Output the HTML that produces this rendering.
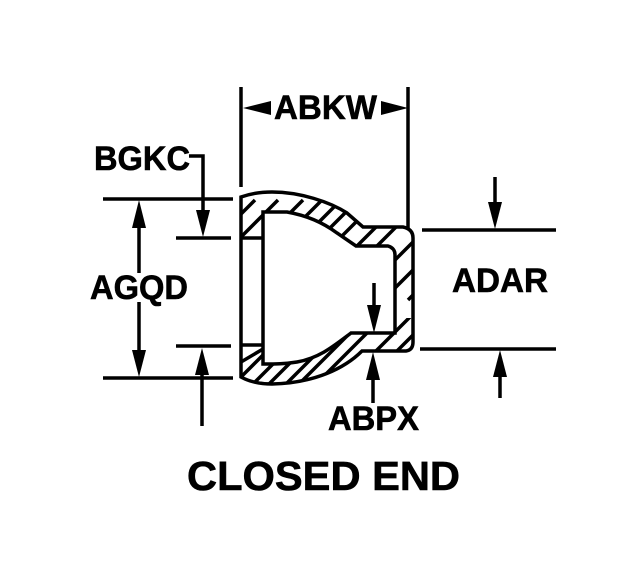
<!DOCTYPE html>
<html><head><meta charset="utf-8"><style>
html,body{margin:0;padding:0;background:#fff}
svg{display:block}
text{font-family:"Liberation Sans",sans-serif;font-weight:700;fill:#000;stroke:#000;stroke-width:.6}
</style></head><body>
<svg width="636" height="572" viewBox="0 0 636 572" xmlns="http://www.w3.org/2000/svg">
<defs>
<clipPath id="ring"><path clip-rule="evenodd" d="M241 197 C252 193 262 192 272 192 C300 192 330 202 347 213 L363 227 L403 227 Q413 229 413 238 L413 342 Q413 350 406 351 L362 351 C345 368 315 383 272 384 C260 384 250 382 241 377 Z M263 212 L287 212 C310 216 325 224 337 233 L356 246 L388 246 Q395 248 395 255 L395 333 L351 333 C335 345 320 358 297 362 C285 364 275 364 263 364 Z"/></clipPath>
<clipPath id="up"><rect x="230" y="180" width="190" height="90"/><rect x="394" y="270" width="30" height="48"/></clipPath>
<clipPath id="lo"><rect x="230" y="330" width="165" height="60"/><rect x="395" y="318" width="30" height="40"/></clipPath>
</defs>
<g stroke="#000" stroke-width="3.5" fill="none">
<g clip-path="url(#ring)">
<g clip-path="url(#up)">
<path d="M255 200L155 300M278 200L178 300M303 200L203 300M322 200L222 300M341 200L241 300M358 200L258 300M378 200L278 300M403 200L303 300M423 200L323 300M455 200L355 300M483 200L383 300M508 200L408 300"/>
</g>
<g clip-path="url(#lo)">
<path d="M218 400L318 300M237 400L337 300M253 400L353 300M270 400L370 300M283 400L383 300M300 400L400 300M327 400L427 300M348 400L448 300M241 362L263 349"/>
</g>
</g>
<rect x="242" y="239" width="21" height="106" fill="#fff" stroke="none"/>
<path d="M241 197 C252 193 262 192 272 192 C300 192 330 202 347 213 L363 227 L403 227 Q413 229 413 238 L413 342 Q413 350 406 351 L362 351 C345 368 315 383 272 384 C260 384 250 382 241 377 Z"/>
<path d="M263 212 L287 212 C310 216 325 224 337 233 L356 246 L388 246 Q395 248 395 255 L395 333 L351 333 C335 345 320 358 297 362 C285 364 275 364 263 364 Z"/>
<path d="M241 238H263M241 345H263"/>
<path d="M241 87V187M408 87V228"/>
<path d="M103 199H233M176 238H231M176 346H231M103 378H233"/>
<path d="M422 230H556M420 349H556"/>
<path d="M139 210V273M139 302V365"/>
<path d="M189 156H203V215"/>
<path d="M202 360V426"/>
<path d="M495 177V210M500 365V398"/>
<path d="M374 283V310M373 365V403"/>
</g>
<g fill="#000">
<path d="M243 108L271 101V115Z"/>
<path d="M408 108L381 101V115Z"/>
<path d="M139 200L132 228H146Z"/>
<path d="M139 377L132 350H146Z"/>
<path d="M203 237L196 210H210Z"/>
<path d="M202 348L195 375H209Z"/>
<path d="M495 229L488 202H502Z"/>
<path d="M500 350L493 377H507Z"/>
<path d="M374 333L367 305H381Z"/>
<path d="M373 352L366 380H380Z"/>
</g>
<text x="274" y="119" font-size="34" textLength="103" lengthAdjust="spacingAndGlyphs">ABKW</text>
<text x="94" y="170" font-size="34" textLength="96" lengthAdjust="spacingAndGlyphs">BGKC</text>
<text x="90" y="299" font-size="34" textLength="98" lengthAdjust="spacingAndGlyphs">AGQD</text>
<text x="452" y="292" font-size="34" textLength="96" lengthAdjust="spacingAndGlyphs">ADAR</text>
<text x="328" y="430" font-size="34" textLength="91" lengthAdjust="spacingAndGlyphs">ABPX</text>
<text x="187" y="490" font-size="41" textLength="273" lengthAdjust="spacingAndGlyphs">CLOSED END</text>
</svg>
</body></html>
